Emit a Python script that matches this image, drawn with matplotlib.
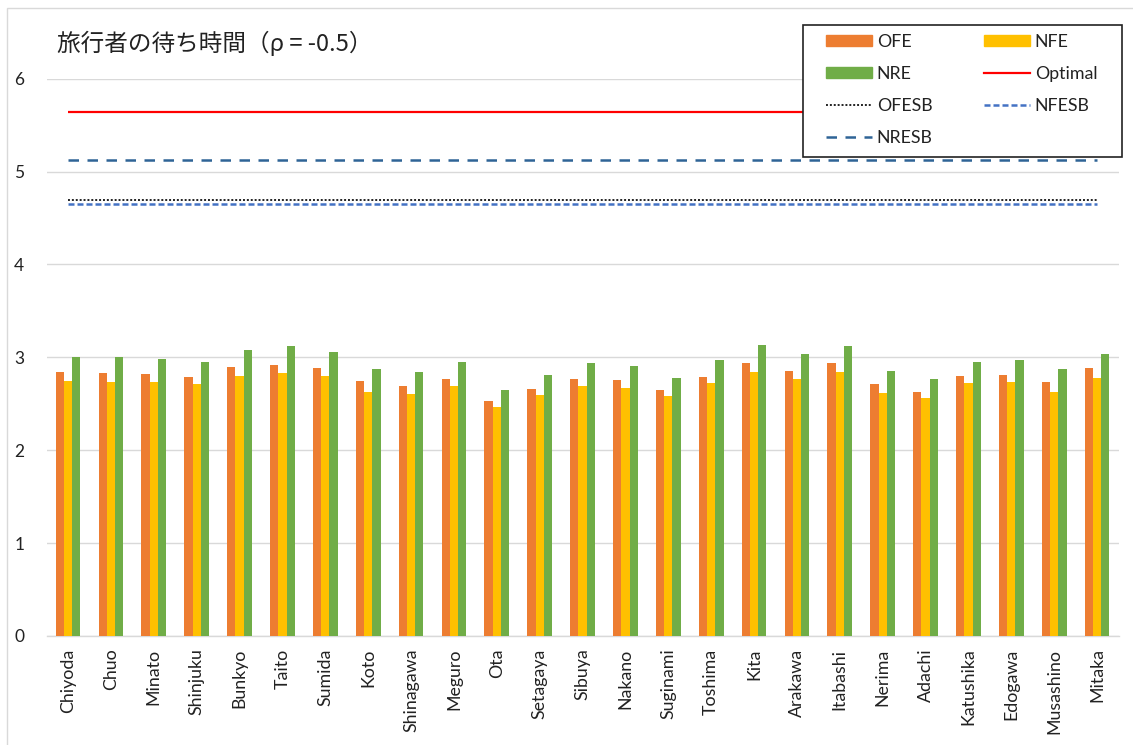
import matplotlib
matplotlib.use("Agg")
import matplotlib.pyplot as plt
import numpy as np
from matplotlib.patches import Patch, Rectangle
from matplotlib.lines import Line2D

plt.rcParams['font.family'] = ['Lato', 'Noto Sans CJK JP', 'DejaVu Sans']

# Municipalities and waiting times
wards = ["Chiyoda", "Chuo", "Minato", "Shinjuku", "Bunkyo", "Taito", "Sumida",
         "Koto", "Shinagawa", "Meguro", "Ota", "Setagaya", "Sibuya", "Nakano",
         "Suginami", "Toshima", "Kita", "Arakawa", "Itabashi", "Nerima",
         "Adachi", "Katushika", "Edogawa", "Musashino", "Mitaka"]

ofe = [2.84, 2.83, 2.82, 2.79, 2.90, 2.92, 2.88, 2.74, 2.69, 2.77, 2.53, 2.66,
       2.77, 2.76, 2.65, 2.79, 2.94, 2.85, 2.94, 2.71, 2.63, 2.80, 2.81, 2.73, 2.89]
nfe = [2.74, 2.73, 2.73, 2.71, 2.80, 2.83, 2.80, 2.63, 2.61, 2.69, 2.46, 2.59,
       2.69, 2.67, 2.58, 2.72, 2.84, 2.77, 2.84, 2.62, 2.56, 2.72, 2.73, 2.63, 2.78]
nre = [3.00, 3.00, 2.98, 2.95, 3.08, 3.12, 3.06, 2.87, 2.84, 2.95, 2.65, 2.81,
       2.94, 2.91, 2.78, 2.97, 3.13, 3.04, 3.12, 2.85, 2.77, 2.95, 2.97, 2.87, 3.04]

optimal = 5.645
ofesb = 4.69
nfesb = 4.65
nresb = 5.12

y_ticks = [0, 1, 2, 3, 4, 5, 6]
title = "旅行者の待ち時間（ρ = -0.5）"

c_ofe = "#ED7D31"
c_nfe = "#FFC000"
c_nre = "#70AD47"
c_opt = "#FF0000"
c_nfesb = "#4472C4"
c_nresb = "#2F6496"
grid_c = "#D9D9D9"

W, H = 1133, 745
fig = plt.figure(figsize=(W / 100, H / 100), dpi=100)
ax = fig.add_axes([46.6 / W, 1 - 636 / H, (1118.5 - 46.6) / W, (636 - 78.6) / H])

x = np.arange(len(wards))
bw = 0.192
ax.bar(x - bw, ofe, bw, color=c_ofe, zorder=3)
ax.bar(x, nfe, bw, color=c_nfe, zorder=3)
ax.bar(x + bw, nre, bw, color=c_nre, zorder=3)

n = len(wards)
ax.plot(x, [optimal] * n, color=c_opt, lw=1.6, zorder=4, solid_capstyle='butt')
ax.plot(x, [nresb] * n, color=c_nresb, lw=1.8, dashes=(4.2, 3.4), zorder=4)
ax.plot(x, [ofesb] * n, color="#222222", lw=1.4, dashes=(1, 1), zorder=4)
ax.plot(x, [nfesb] * n, color=c_nfesb, lw=1.8, dashes=(2.4, 1.2), zorder=4)

ax.set_xlim(-0.5, n - 0.5)
ax.set_ylim(0, 6)
ax.set_yticks(y_ticks)
ax.set_yticklabels([str(v) for v in y_ticks])
ax.set_xticks(x)
ax.set_xticklabels(wards, rotation=90, va='top', ha='center')
ax.tick_params(axis='x', length=0, pad=9, labelsize=12.8, colors='#222222')
ax.tick_params(axis='y', length=0, pad=16, labelsize=12.5, colors='#222222')
ax.grid(axis='y', color=grid_c, lw=1, zorder=0)
for s in ['top', 'right', 'left']:
    ax.spines[s].set_visible(False)
ax.spines['bottom'].set_color(grid_c)
ax.spines['bottom'].set_linewidth(1)

fig.text(57 / W, 1 - 43 / H, title, fontsize=17, va='center', ha='left',
         color='#222222', family=['Noto Sans CJK JP', 'DejaVu Sans'])

# legend box drawn separately so its padding can differ per side
fig.patches.append(Rectangle((803 / W, 1 - 157 / H), (1122 - 803) / W, (157 - 25) / H,
                             transform=fig.transFigure, facecolor='white',
                             edgecolor='#222222', lw=1.2, zorder=2))

handles = [
    Patch(color=c_ofe, label='OFE'),
    Patch(color=c_nre, label='NRE'),
    Line2D([], [], color='#222222', lw=1.4, dashes=(1, 1), label='OFESB'),
    Line2D([], [], color=c_nresb, lw=1.8, dashes=(4.2, 3.4), label='NRESB'),
    Patch(color=c_nfe, label='NFE'),
    Line2D([], [], color=c_opt, lw=1.6, label='Optimal'),
    Line2D([], [], color=c_nfesb, lw=1.8, dashes=(2.4, 1.2), label='NFESB'),
]
leg = fig.legend(handles=handles, ncol=2, loc='upper left',
                 bbox_to_anchor=(826 / W, 1 - 34 / H),
                 fontsize=12.8, frameon=False,
                 handlelength=2.6, handleheight=0.55, handletextpad=0.25,
                 columnspacing=2.9, labelspacing=0.9, borderpad=0,
                 borderaxespad=0)
leg.set_zorder(3)
for t in leg.get_texts():
    t.set_color('#222222')

# light chart border
fig.patches.append(Rectangle((7 / W, -0.1), 1.2, 1.1 - 8 / H,
                             transform=fig.transFigure, fill=False,
                             edgecolor=grid_c, lw=1))

fig.savefig("out.png", dpi=100, facecolor='white')
